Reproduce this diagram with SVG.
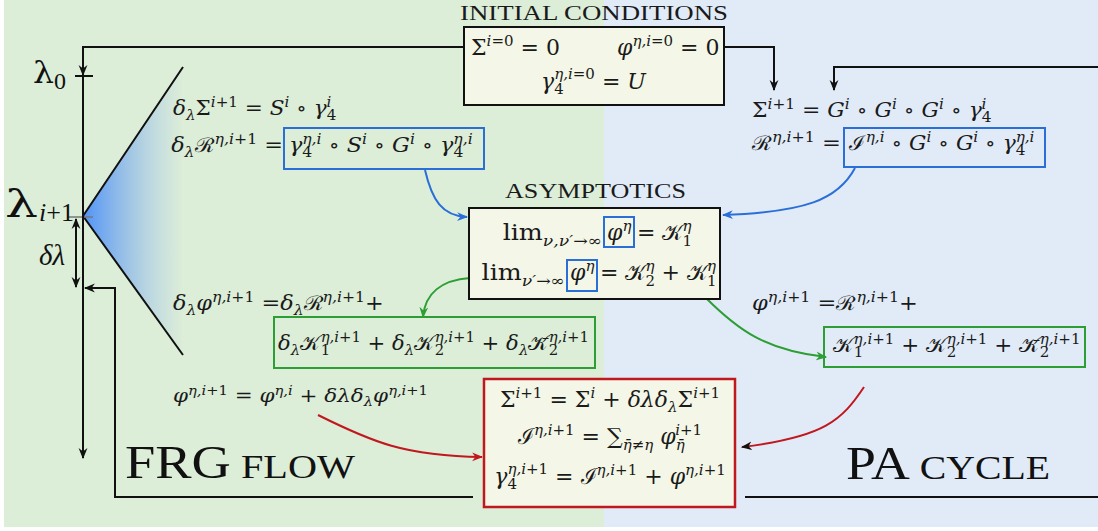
<svg xmlns="http://www.w3.org/2000/svg" width="1098" height="531" viewBox="0 0 1098 531">
<style>
.t{font-family:"DejaVu Serif","Liberation Serif",serif;fill:#1a1a1a}
.i{font-style:italic}
.s{font-size:14px}
.b{font-size:15px}
.ln{fill:none;stroke:#111;stroke-width:2}
.box{fill:#f4f7e7;stroke:#111;stroke-width:2}
.bb{fill:none;stroke:#2a6fd8;stroke-width:2}
.gb{fill:none;stroke:#2c9e34;stroke-width:2}
.cap{font-family:"Liberation Serif",serif;fill:#1a1a1a;font-size:22px}
.lab{font-family:"Liberation Serif",serif;fill:#111}
.lam{font-family:"DejaVu Serif",serif;fill:#111}
</style>
<defs>
<linearGradient id="tri" gradientUnits="userSpaceOnUse" x1="83" y1="0" x2="183" y2="0">
<stop offset="0" stop-color="#4f92f6" stop-opacity="1"/>
<stop offset="1" stop-color="#8fb8ec" stop-opacity="0"/>
</linearGradient>
<marker id="ak" viewBox="0 0 10 10" refX="9" refY="5" markerWidth="11" markerHeight="11" markerUnits="userSpaceOnUse" orient="auto-start-reverse"><path d="M0,1 L10,5 L0,9 L3,5 z" fill="#111"/></marker>
<marker id="abl" viewBox="0 0 10 10" refX="9" refY="5" markerWidth="11" markerHeight="11" markerUnits="userSpaceOnUse" orient="auto"><path d="M0,1 L10,5 L0,9 L3,5 z" fill="#2a6fd8"/></marker>
<marker id="agr" viewBox="0 0 10 10" refX="9" refY="5" markerWidth="11" markerHeight="11" markerUnits="userSpaceOnUse" orient="auto"><path d="M0,1 L10,5 L0,9 L3,5 z" fill="#2c9e34"/></marker>
<marker id="ard" viewBox="0 0 10 10" refX="9" refY="5" markerWidth="11" markerHeight="11" markerUnits="userSpaceOnUse" orient="auto"><path d="M0,1 L10,5 L0,9 L3,5 z" fill="#c0181e"/></marker>
</defs>
<g id="background">
<rect x="0" y="0" width="1098" height="531" fill="#ffffff"/>
<rect x="4" y="0" width="600" height="527" fill="#dcedd8"/>
<rect x="604" y="0" width="494" height="527" fill="#e1ebf7"/>
</g>
<g id="flow-axis">
<polygon points="83,216 183,67 183,355" fill="url(#tri)"/>
<path class="ln" d="M83,216 L183,67 M83,216 L183,355"/>
<path d="M68,217 H93" stroke="#777" stroke-width="1.5"/>
<path class="ln" d="M75,76 H93"/>
<text class="lam" x="33" y="83" font-size="29" textLength="21" lengthAdjust="spacingAndGlyphs">λ</text>
<text class="lab" x="54" y="89" font-size="24">0</text>
<text class="lam" x="5" y="217" font-size="38" textLength="33" lengthAdjust="spacingAndGlyphs">λ</text>
<text class="lab" x="39" y="221" font-size="26"><tspan class="i">i</tspan>+1</text>
<text class="lab i" x="39" y="265" font-size="29">δλ</text>
</g>
<g id="connectors">
<path class="ln" d="M464,47 H83 V75" marker-end="url(#ak)"/>
<path class="ln" d="M83,75 V458" marker-end="url(#ak)"/>
<path class="ln" d="M76,219 V287" marker-start="url(#ak)" marker-end="url(#ak)"/>
<path class="ln" d="M473,497 H115 V288 H85" marker-end="url(#ak)"/>
<path class="ln" d="M745,497 H1098"/>
<path class="ln" d="M724,47 H774 V90" marker-end="url(#ak)"/>
<path class="ln" d="M1098,67 H834 V90" marker-end="url(#ak)"/>
<path d="M425,170 C432,200 442,216 467,217" fill="none" stroke="#2a6fd8" stroke-width="2" marker-end="url(#abl)"/>
<path d="M855,168 C838,200 805,212 723,215" fill="none" stroke="#2a6fd8" stroke-width="2" marker-end="url(#abl)"/>
<path d="M470,278 C442,280 425,293 423,317" fill="none" stroke="#2c9e34" stroke-width="2" marker-end="url(#agr)"/>
<path d="M706,298 C738,330 765,350 826,357" fill="none" stroke="#2c9e34" stroke-width="2" marker-end="url(#agr)"/>
<path d="M318,415 C372,442 405,456 482,457" fill="none" stroke="#c0181e" stroke-width="2" marker-end="url(#ard)"/>
<path d="M864,387 C842,420 825,437 742,447" fill="none" stroke="#c0181e" stroke-width="2" marker-end="url(#ak)"/>
</g>
<g id="initial-conditions">
<text class="cap" x="460" y="20" textLength="268" lengthAdjust="spacingAndGlyphs">INITIAL CONDITIONS</text>
<rect class="box" x="464" y="27" width="260" height="78"/>
<text class="t" x="471" y="55" font-size="22">Σ<tspan class="b" dy="-9"><tspan class="i">i</tspan>=0</tspan><tspan dy="9"> = 0</tspan></text>
<text class="t" x="617" y="55" font-size="22"><tspan class="i">φ</tspan><tspan class="b i" dy="-9">η,i</tspan><tspan class="b">=0</tspan><tspan dy="9"> = 0</tspan></text>
<text class="t" x="541" y="89" font-size="22"><tspan class="i">γ</tspan><tspan class="b" dy="5">4</tspan><tspan class="b i" dx="-9.5" dy="-15">η,i</tspan><tspan class="b">=0</tspan><tspan dy="10"> = </tspan><tspan class="i">U</tspan></text>
</g>
<g id="left-flow-eqs">
<text class="t" x="173" y="115" font-size="20" transform="matrix(1.08,0,0,1,-13.84,0)"><tspan class="i">δ</tspan><tspan class="s i" dy="5">λ</tspan><tspan dy="-5">Σ</tspan><tspan class="s" dy="-8"><tspan class="i">i</tspan>+1</tspan><tspan dy="8"> = </tspan><tspan class="i">S</tspan><tspan class="s i" dy="-8">i</tspan><tspan dy="8"> ∘ </tspan><tspan class="i">γ</tspan><tspan class="s" dy="5">4</tspan><tspan class="s i" dx="-9" dy="-13">i</tspan></text>
<text class="t" x="283" y="152" font-size="20" text-anchor="end" transform="matrix(1.12,0,0,1,-33.96,0)"><tspan class="i">δ</tspan><tspan class="s i" dy="5">λ</tspan><tspan dy="-5">ℛ</tspan><tspan class="s" dy="-8"><tspan class="i">η,i</tspan>+1</tspan><tspan dy="8"> =</tspan></text>
<rect class="bb" x="284" y="128" width="200" height="41"/>
<text class="t" x="289" y="152" font-size="20" transform="matrix(1.116,0,0,1,-33.52,0)"><tspan class="i">γ</tspan><tspan class="s" dy="5">4</tspan><tspan class="s i" dx="-9" dy="-13">η,i</tspan><tspan dy="8"> ∘ </tspan><tspan class="i">S</tspan><tspan class="s i" dy="-8">i</tspan><tspan dy="8"> ∘ </tspan><tspan class="i">G</tspan><tspan class="s i" dy="-8">i</tspan><tspan dy="8"> ∘ </tspan><tspan class="i">γ</tspan><tspan class="s" dy="5">4</tspan><tspan class="s i" dx="-9" dy="-13">η,i</tspan></text>
</g>
<g id="right-pa-eqs">
<text class="t" x="752" y="117" font-size="20" transform="matrix(1.096,0,0,1,-72.19,0)">Σ<tspan class="s" dy="-8"><tspan class="i">i</tspan>+1</tspan><tspan dy="8"> = </tspan><tspan class="i">G</tspan><tspan class="s i" dy="-8">i</tspan><tspan dy="8"> ∘ </tspan><tspan class="i">G</tspan><tspan class="s i" dy="-8">i</tspan><tspan dy="8"> ∘ </tspan><tspan class="i">G</tspan><tspan class="s i" dy="-8">i</tspan><tspan dy="8"> ∘ </tspan><tspan class="i">γ</tspan><tspan class="s" dy="5">4</tspan><tspan class="s i" dx="-9" dy="-13">i</tspan></text>
<text class="t" x="841" y="150" font-size="20" text-anchor="end" transform="matrix(1.13,0,0,1,-109.33,0)">ℛ<tspan class="s" dy="-8"><tspan class="i">η,i</tspan>+1</tspan><tspan dy="8"> =</tspan></text>
<rect class="bb" x="844" y="128" width="201" height="39"/>
<text class="t" x="849" y="150" font-size="20" transform="matrix(1.09,0,0,1,-76.41,0)">ℐ<tspan class="s i" dy="-8">η,i</tspan><tspan dy="8"> ∘ </tspan><tspan class="i">G</tspan><tspan class="s i" dy="-8">i</tspan><tspan dy="8"> ∘ </tspan><tspan class="i">G</tspan><tspan class="s i" dy="-8">i</tspan><tspan dy="8"> ∘ </tspan><tspan class="i">γ</tspan><tspan class="s" dy="5">4</tspan><tspan class="s i" dx="-9" dy="-13">η,i</tspan></text>
</g>
<g id="asymptotics">
<text class="cap" x="505" y="198" textLength="181" lengthAdjust="spacingAndGlyphs">ASYMPTOTICS</text>
<rect class="box" x="469" y="208" width="251" height="91"/>
<text class="t" x="602" y="240" font-size="22" text-anchor="end" transform="matrix(1.15,0,0,1,-90.3,0)">lim<tspan class="b i" dy="6">ν,ν′</tspan><tspan class="b">→∞</tspan></text>
<rect class="bb" x="604" y="217" width="30" height="30"/>
<text class="t" x="607" y="240" font-size="22"><tspan class="i">φ</tspan><tspan class="b i" dy="-9">η</tspan></text>
<text class="t" x="637" y="240" font-size="22">= 𝒦<tspan class="b" dy="6">1</tspan><tspan class="b i" dx="-9.5" dy="-15">η</tspan></text>
<text class="t" x="565" y="280" font-size="22" text-anchor="end" transform="matrix(1.15,0,0,1,-84.75,0)">lim<tspan class="b i" dy="6">ν′</tspan><tspan class="b">→∞</tspan></text>
<rect class="bb" x="567" y="260" width="30" height="31"/>
<text class="t" x="570" y="280" font-size="22"><tspan class="i">φ</tspan><tspan class="b i" dy="-9">η</tspan></text>
<text class="t" x="600" y="280" font-size="22">= 𝒦<tspan class="b" dy="6">2</tspan><tspan class="b i" dx="-9.5" dy="-15">η</tspan><tspan dy="9"> + 𝒦</tspan><tspan class="b" dy="6">1</tspan><tspan class="b i" dx="-9.5" dy="-15">η</tspan></text>
</g>
<g id="left-phi-eqs">
<text class="t" x="173" y="310" font-size="20" transform="matrix(1.118,0,0,1,-20.41,0)"><tspan class="i">δ</tspan><tspan class="s i" dy="5">λ</tspan><tspan class="i" dy="-5">φ</tspan><tspan class="s" dy="-8"><tspan class="i">η,i</tspan>+1</tspan><tspan dy="8"> =</tspan><tspan class="i">δ</tspan><tspan class="s i" dy="5">λ</tspan><tspan dy="-5">ℛ</tspan><tspan class="s" dy="-8"><tspan class="i">η,i</tspan>+1</tspan><tspan dy="8">+</tspan></text>
<rect class="gb" x="274" y="317" width="321" height="51"/>
<text class="t" x="278" y="350" font-size="20" transform="matrix(1.06,0,0,1,-16.68,0)"><tspan class="i">δ</tspan><tspan class="s i" dy="5">λ</tspan><tspan dy="-5">𝒦</tspan><tspan class="s" dy="5">1</tspan><tspan class="s" dx="-9" dy="-13"><tspan class="i">η,i</tspan>+1</tspan><tspan dy="8"> + </tspan><tspan class="i">δ</tspan><tspan class="s i" dy="5">λ</tspan><tspan dy="-5">𝒦</tspan><tspan class="s" dy="5">2</tspan><tspan class="s" dx="-9" dy="-13"><tspan class="i">η,i</tspan>+1</tspan><tspan dy="8"> + </tspan><tspan class="i">δ</tspan><tspan class="s i" dy="5">λ</tspan><tspan dy="-5">𝒦̄</tspan><tspan class="s" dy="5">2</tspan><tspan class="s" dx="-9" dy="-13"><tspan class="i">η,i</tspan>+1</tspan></text>
<text class="t" x="173" y="402" font-size="19" transform="matrix(1.13,0,0,1,-22.49,0)"><tspan class="i">φ</tspan><tspan font-size="13" dy="-7"><tspan class="i">η,i</tspan>+1</tspan><tspan dy="7"> = </tspan><tspan class="i">φ</tspan><tspan font-size="13" class="i" dy="-7">η,i</tspan><tspan dy="7"> + </tspan><tspan class="i">δλδ</tspan><tspan font-size="13" class="i" dy="4">λ</tspan><tspan class="i" dy="-4">φ</tspan><tspan font-size="13" dy="-7"><tspan class="i">η,i</tspan>+1</tspan></text>
</g>
<g id="right-phi-eqs">
<text class="t" x="752" y="310" font-size="20" transform="matrix(1.124,0,0,1,-93.25,0)"><tspan class="i">φ</tspan><tspan class="s" dy="-8"><tspan class="i">η,i</tspan>+1</tspan><tspan dy="8"> =</tspan>ℛ<tspan class="s" dy="-8"><tspan class="i">η,i</tspan>+1</tspan><tspan dy="8">+</tspan></text>
<rect class="gb" x="824" y="327" width="261" height="40"/>
<text class="t" x="833" y="352" font-size="20" transform="matrix(1.075,0,0,1,-62.48,0)">𝒦<tspan class="s" dy="5">1</tspan><tspan class="s" dx="-9" dy="-13"><tspan class="i">η,i</tspan>+1</tspan><tspan dy="8"> + 𝒦</tspan><tspan class="s" dy="5">2</tspan><tspan class="s" dx="-9" dy="-13"><tspan class="i">η,i</tspan>+1</tspan><tspan dy="8"> + 𝒦̄</tspan><tspan class="s" dy="5">2</tspan><tspan class="s" dx="-9" dy="-13"><tspan class="i">η,i</tspan>+1</tspan></text>
</g>
<g id="update">
<rect x="484" y="379" width="251" height="128" fill="#f4f7e7" stroke="#c0181e" stroke-width="2.5"/>
<text class="t" x="610" y="407" font-size="22" text-anchor="middle">Σ<tspan class="b" dy="-9"><tspan class="i">i</tspan>+1</tspan><tspan dy="9"> = Σ</tspan><tspan class="b i" dy="-9">i</tspan><tspan dy="9"> + </tspan><tspan class="i">δλδ</tspan><tspan class="b i" dy="5">λ</tspan><tspan dy="-5">Σ</tspan><tspan class="b" dy="-9"><tspan class="i">i</tspan>+1</tspan></text>
<text class="t" x="610" y="444" font-size="22" text-anchor="middle">ℐ<tspan class="b" dy="-9"><tspan class="i">η,i</tspan>+1</tspan><tspan dy="9"> = ∑</tspan><tspan class="b i" dy="6">η̄≠η</tspan><tspan class="i" dy="-6"> φ</tspan><tspan class="b i" dy="6">η̄</tspan><tspan class="b" dx="-9.5" dy="-15"><tspan class="i">i</tspan>+1</tspan></text>
<text class="t" x="610" y="484" font-size="22" text-anchor="middle"><tspan class="i">γ</tspan><tspan class="b" dy="5">4</tspan><tspan class="b" dx="-9.5" dy="-15"><tspan class="i">η,i</tspan>+1</tspan><tspan dy="10"> = ℐ</tspan><tspan class="b" dy="-9"><tspan class="i">η,i</tspan>+1</tspan><tspan dy="9"> + </tspan><tspan class="i">φ</tspan><tspan class="b" dy="-9"><tspan class="i">η,i</tspan>+1</tspan></text>
</g>
<g id="labels">
<text class="lab" x="125" y="478" textLength="230" lengthAdjust="spacingAndGlyphs"><tspan font-size="46">FRG</tspan><tspan font-size="34"> FLOW</tspan></text>
<text class="lab" x="846" y="479" textLength="204" lengthAdjust="spacingAndGlyphs"><tspan font-size="46">PA</tspan><tspan font-size="34"> CYCLE</tspan></text>
</g>
</svg>
